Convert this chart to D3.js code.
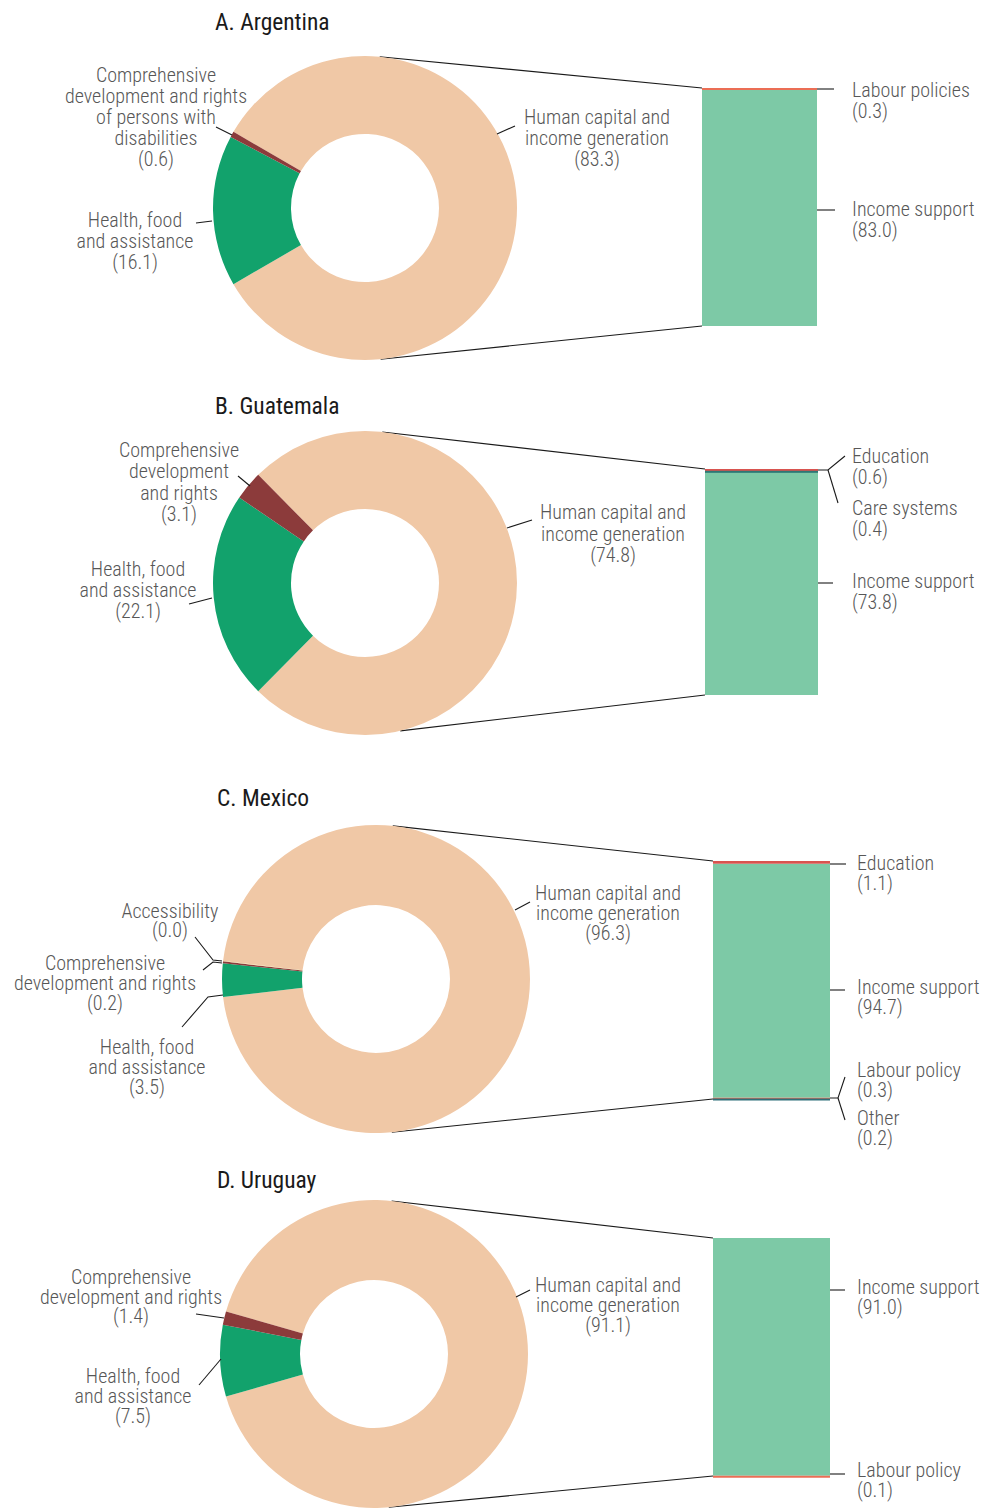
<!DOCTYPE html>
<html><head><meta charset="utf-8">
<script src="https://cdn.jsdelivr.net/npm/d3@7"></script>
<style>
html,body{margin:0;padding:0;background:#fff;}
svg{display:block;}
text{font-family:"Roboto Condensed","Liberation Sans Narrow","DejaVu Sans Condensed","Arial Narrow",sans-serif;}
</style></head>
<body>
<script>
// ---------- DATA ----------
const panelTitles = ["A. Argentina", "B. Guatemala", "C. Mexico", "D. Uruguay"];

const argPieCategories = ["Human capital and income generation", "Health, food and assistance", "Comprehensive development and rights of persons with disabilities"];
const argPieValues = [83.3, 16.1, 0.6];
const argBarCategories = ["Labour policies", "Income support"];
const argBarValues = [0.3, 83.0];

const guaPieCategories = ["Human capital and income generation", "Health, food and assistance", "Comprehensive development and rights"];
const guaPieValues = [74.8, 22.1, 3.1];
const guaBarCategories = ["Education", "Care systems", "Income support"];
const guaBarValues = [0.6, 0.4, 73.8];

const mexPieCategories = ["Human capital and income generation", "Health, food and assistance", "Comprehensive development and rights", "Accessibility"];
const mexPieValues = [96.3, 3.5, 0.2, 0.04];
const mexBarCategories = ["Education", "Income support", "Labour policy", "Other"];
const mexBarValues = [1.1, 94.7, 0.3, 0.2];

const uruPieCategories = ["Human capital and income generation", "Health, food and assistance", "Comprehensive development and rights"];
const uruPieValues = [91.1, 7.5, 1.4];
const uruBarCategories = ["Income support", "Labour policy"];
const uruBarValues = [91.0, 0.1];

// ---------- STYLE / LAYOUT ----------
const colors = {
  "Human capital and income generation": "#F0C8A6",
  "Health, food and assistance": "#12A26C",
  "Comprehensive development and rights of persons with disabilities": "#8C3B3B",
  "Comprehensive development and rights": "#8C3B3B",
  "Accessibility": "#F2E2A2",
  "Income support": "#7DC9A6",
  "Labour policies": "#EB6E55",
  "Labour policy": "#EB6E55",
  "Education": "#D9534F",
  "Care systems": "#2E7775",
  "Other": "#2F6F7A"
};

const panels = [
  { pieCat: argPieCategories, pieVal: argPieValues, barCat: argBarCategories, barVal: argBarValues,
    title: [215, 22], cx: 365, cy: 208, R: 152, r: 74, barX: 702, barW: 115, barTop: 88, barBottom: 326,
    pieLabels: [
      { lines: ["Human capital and", "income generation"], x: 597, y: 117, lh: 21, leader: [[497,134],[515,126]] },
      { lines: ["Health, food", "and assistance"], x: 135, y: 220, lh: 21, leader: [[196,223],[212,221]] },
      { lines: ["Comprehensive", "development and rights", "of persons with", "disabilities"], x: 156, y: 75, lh: 21, leader: [[216,127],[232,135]] }
    ],
    barLabels: [
      { lines: ["Labour policies"], x: 852, y: 90, lh: 21, leader: [[817,89],[834,89]] },
      { lines: ["Income support"], x: 852, y: 209, lh: 21, leader: [[817,210],[835,210]] }
    ] },
  { pieCat: guaPieCategories, pieVal: guaPieValues, barCat: guaBarCategories, barVal: guaBarValues,
    title: [215, 406], cx: 365, cy: 583, R: 152, r: 74, barX: 705, barW: 113, barTop: 469, barBottom: 695, botAngle: 166.6,
    pieLabels: [
      { lines: ["Human capital and", "income generation"], x: 613, y: 512, lh: 21.5, leader: [[507,528],[532,520]] },
      { lines: ["Health, food", "and assistance"], x: 138, y: 569, lh: 21, leader: [[189,604],[212,598]] },
      { lines: ["Comprehensive", "development", "and rights"], x: 179, y: 450, lh: 21.3, leader: [[238,476],[250,486]] }
    ],
    barLabels: [
      { lines: ["Education"], x: 852, y: 456, lh: 21, leader: [[818,470],[828,470],[845,456]] },
      { lines: ["Care systems"], x: 852, y: 508, lh: 21, leader: [[828,470],[838,503]] },
      { lines: ["Income support"], x: 852, y: 581, lh: 20.5, leader: [[818,583],[833,583]] }
    ] },
  { pieCat: mexPieCategories, pieVal: mexPieValues, barCat: mexBarCategories, barVal: mexBarValues,
    title: [217, 798], cx: 376, cy: 979, R: 154, r: 74, barX: 713, barW: 117, barTop: 861, barBottom: 1099,
    pieLabels: [
      { lines: ["Human capital and", "income generation"], x: 608, y: 893, lh: 20, leader: [[515,910],[530,902]] },
      { lines: ["Health, food", "and assistance"], x: 147, y: 1047, lh: 20, leader: [[182,1027],[208,997],[223,995]] },
      { lines: ["Comprehensive", "development and rights"], x: 105, y: 963, lh: 20, leader: [[203,970],[213,962],[222,963]] },
      { lines: ["Accessibility"], x: 170, y: 911, lh: 19, leader: [[195,937],[213,960],[222,961]] }
    ],
    barLabels: [
      { lines: ["Education"], x: 857, y: 863, lh: 20, leader: [[830,864],[846,864]] },
      { lines: ["Income support"], x: 857, y: 987, lh: 19.5, leader: [[830,990],[845,990]] },
      { lines: ["Labour policy"], x: 857, y: 1070, lh: 20, leader: [[830,1098],[838,1098],[845,1077]] },
      { lines: ["Other"], x: 857, y: 1118, lh: 20, leader: [[838,1098],[845,1120]] }
    ] },
  { pieCat: uruPieCategories, pieVal: uruPieValues, barCat: uruBarCategories, barVal: uruBarValues,
    title: [217, 1180], cx: 374, cy: 1354, R: 154, r: 74, barX: 713, barW: 117, barTop: 1238, barBottom: 1476,
    pieLabels: [
      { lines: ["Human capital and", "income generation"], x: 608, y: 1285, lh: 20, leader: [[516,1297],[530,1290]] },
      { lines: ["Health, food", "and assistance"], x: 133, y: 1376, lh: 20, leader: [[199,1385],[221,1359]] },
      { lines: ["Comprehensive", "development and rights"], x: 131, y: 1277, lh: 19.5, leader: [[196,1314],[224,1318]] }
    ],
    barLabels: [
      { lines: ["Income support"], x: 857, y: 1287, lh: 20, leader: [[830,1290],[845,1290]] },
      { lines: ["Labour policy"], x: 857, y: 1470, lh: 20, leader: [[830,1474],[845,1474]] }
    ] }
];

// ---------- DRAW ----------
const W = 983, H = 1508;
const svg = d3.select("body").append("svg").attr("width", W).attr("height", H);
const textColor = "#575757";
const fontSize = 20;
const line = d3.line();

function tangentPoint(cx, cy, R, px, py, top) {
  const vx = px - cx, vy = py - cy;
  const d = Math.hypot(vx, vy);
  const phi = Math.atan2(vy, vx);
  const a = Math.acos(R / d);
  const ang = top ? phi - a : phi + a;
  return [cx + R * Math.cos(ang), cy + R * Math.sin(ang)];
}
function circlePoint(cx, cy, R, deg) {
  const a = deg * Math.PI / 180;
  return [cx + R * Math.sin(a), cy - R * Math.cos(a)];
}

function drawLabel(g, lab, valueText, anchor) {
  const t = g.append("text")
    .attr("text-anchor", anchor)
    .attr("fill", textColor)
    .attr("font-size", fontSize)
    .attr("font-weight", 300);
  const all = lab.lines.concat([valueText]);
  all.forEach((s, i) => {
    t.append("tspan").attr("x", lab.x).attr("y", lab.y + i * lab.lh)
      .attr("dominant-baseline", "central").text(s);
  });
  g.append("path").attr("d", line(lab.leader)).attr("fill", "none")
    .attr("stroke", "#1a1a1a").attr("stroke-width", 1.1);
}

panels.forEach((p, pi) => {
  const g = svg.append("g");
  // title
  g.append("text").attr("x", p.title[0]).attr("y", p.title[1])
    .attr("dominant-baseline", "central").attr("font-size", 23.5)
    .attr("fill", "#1a1a1a").attr("font-weight", 400).text(panelTitles[pi]);

  // connecting lines from bar corners to donut outer circle
  const tp1 = tangentPoint(p.cx, p.cy, p.R, p.barX, p.barTop, true);
  const tp2 = p.botAngle != null ? circlePoint(p.cx, p.cy, p.R, p.botAngle)
                                 : tangentPoint(p.cx, p.cy, p.R, p.barX, p.barBottom, false);
  g.append("path").attr("d", line([tp1, [p.barX, p.barTop]])).attr("stroke", "#1a1a1a").attr("stroke-width", 1.1).attr("fill", "none");
  g.append("path").attr("d", line([tp2, [p.barX, p.barBottom]])).attr("stroke", "#1a1a1a").attr("stroke-width", 1.1).attr("fill", "none");

  // donut
  const total = d3.sum(p.pieVal);
  const mainShare = p.pieVal[0] / total;
  const start = Math.PI / 2 - mainShare * Math.PI;
  const pie = d3.pie().sort(null).value(d => d.v).startAngle(start).endAngle(start + 2 * Math.PI);
  const arcs = pie(p.pieCat.map((c, i) => ({ c, v: p.pieVal[i] })));
  const arc = d3.arc().innerRadius(p.r).outerRadius(p.R);
  const dg = g.append("g").attr("transform", `translate(${p.cx},${p.cy})`);
  dg.selectAll("path").data(arcs).join("path")
    .attr("d", arc).attr("fill", d => colors[d.data.c]);

  // stacked bar
  const barTotal = d3.sum(p.barVal);
  const y = d3.scaleLinear().domain([0, barTotal]).range([p.barTop, p.barBottom]);
  let acc = 0;
  const segs = p.barVal.map((v, i) => { const s = { c: p.barCat[i], y0: acc, y1: acc + v }; acc += v; return s; });
  g.selectAll("rect.seg").data(segs).join("rect").attr("class", "seg")
    .attr("x", p.barX).attr("width", p.barW)
    .attr("y", d => y(d.y0)).attr("height", d => Math.max(2, y(d.y1) - y(d.y0)))
    .attr("fill", d => colors[d.c]);
  g.selectAll("rect.seg").filter(d => (y(d.y1) - y(d.y0)) < 3).raise();

  // labels
  p.pieLabels.forEach((lab, i) => drawLabel(g, lab, `(${p.pieVal[i].toFixed(1)})`, "middle"));
  p.barLabels.forEach((lab, i) => drawLabel(g, lab, `(${p.barVal[i].toFixed(1)})`, "start"));
});
</script>
</body></html>
